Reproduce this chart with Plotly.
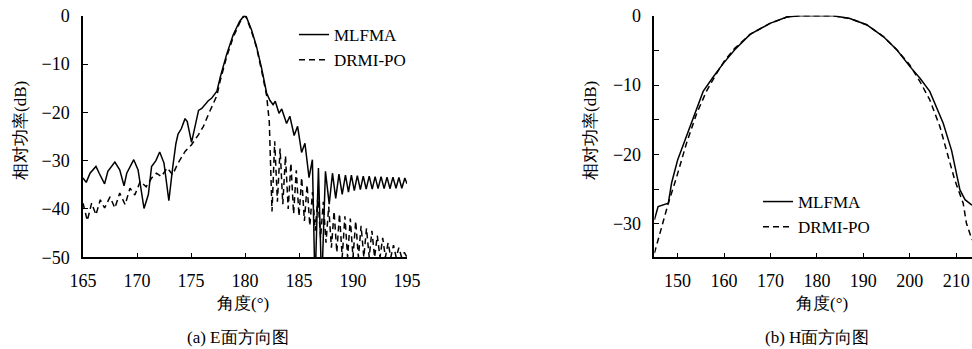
import plotly.graph_objects as go

# ---------------- (a) E-plane pattern ----------------
e_mlfma_angle = [165.0, 165.3, 165.65, 165.9, 166.2, 166.5, 167.0, 167.3, 167.95, 168.4,
                 168.8, 169.05, 169.7, 170.1, 170.65, 171.05, 171.35, 171.75, 172.1, 172.5,
                 172.95, 173.3, 173.6, 173.8, 174.1, 174.45, 174.65, 175.05, 175.35, 175.7,
                 176.0, 176.3, 176.6, 176.9, 177.4, 177.7, 178.0, 178.3, 178.9, 179.5,
                 179.9, 180.1, 180.6, 181.07, 181.55, 182.0, 182.3, 182.6, 182.8, 183.15,
                 183.4, 183.85, 184.15, 184.55, 184.87, 185.24, 185.55, 185.93, 186.24, 186.48,
                 186.8, 187.1, 187.45, 187.8, 188.1, 188.4, 188.7, 189.0, 189.3, 189.58,
                 189.85, 190.12, 190.4, 190.68, 190.95, 191.22, 191.5, 191.78, 192.05, 192.32,
                 192.6, 192.88, 193.15, 193.42, 193.7, 193.98, 194.25, 194.52, 194.8, 195.0]
e_mlfma_db = [-33.6, -34.5, -32.6, -32.0, -31.2, -32.6, -34.8, -32.2, -30.3, -31.9,
              -35.2, -32.6, -29.8, -31.9, -39.9, -37.0, -31.2, -30.0, -28.2, -30.5,
              -38.3, -31.5, -26.5, -24.5, -23.4, -21.3, -21.9, -26.2, -23.0, -19.6,
              -19.2, -18.3, -17.6, -17.1, -15.6, -12.8, -10.5, -8.0, -4.0, -1.2,
              0.0, -0.1, -2.9, -6.4, -11.0, -16.0, -17.5, -18.4, -17.7, -20.2,
              -19.3, -22.3, -20.8, -24.8, -22.9, -28.3, -26.4, -33.5, -29.8, -56.0,
              -31.5, -56.0, -32.2, -39.0, -32.6, -37.8, -32.8, -37.0, -33.0, -36.5,
              -33.0, -36.2, -33.1, -36.0, -33.2, -35.9, -33.2, -35.9, -33.3, -35.8,
              -33.3, -35.8, -33.4, -35.8, -33.4, -35.7, -33.5, -35.7, -33.6, -34.8]

e_drmi_angle = [165.0, 165.4, 165.8, 166.2, 166.6, 167.0, 167.5, 167.95, 168.4, 168.9,
                169.35, 169.8, 170.3, 170.85, 171.35, 171.8, 172.25, 172.8, 173.3, 173.8,
                174.45, 175.05, 175.7, 176.15, 176.6, 176.9, 177.4, 177.7, 178.0, 178.3,
                178.9, 179.5, 179.9, 180.1, 180.6, 181.07, 181.55, 182.0, 182.25, 182.5,
                182.75, 183.0, 183.25, 183.5, 183.75, 184.0, 184.25, 184.5, 184.75, 185.0,
                185.25, 185.5, 185.75, 186.0, 186.25, 186.5, 186.75, 187.0, 187.25, 187.5,
                187.75, 188.0, 188.25, 188.5, 188.75, 189.0, 189.25, 189.5, 189.75, 190.0,
                190.25, 190.5, 190.75, 191.0, 191.25, 191.5, 191.75, 192.0, 192.25, 192.5,
                192.75, 193.0, 193.25, 193.5, 193.75, 194.0, 194.25, 194.5, 194.75, 195.0]
e_drmi_db = [-38.8, -42.4, -38.8, -41.2, -38.1, -39.8, -37.5, -39.8, -36.7, -39.1,
             -35.7, -37.1, -34.3, -35.4, -33.6, -32.6, -33.3, -31.5, -32.9, -30.5,
             -28.1, -26.7, -24.6, -22.9, -20.5, -19.1, -16.5, -13.5, -11.0, -8.5,
             -4.5, -1.5, -0.1, -0.3, -3.2, -6.6, -11.5, -16.5, -22.0, -40.5,
             -26.0, -38.5, -27.5, -39.0, -29.0, -40.0, -30.5, -41.0, -32.0, -41.5,
             -33.5, -42.5, -35.0, -43.5, -36.5, -44.5, -37.5, -46.0, -38.5, -47.0,
             -39.5, -48.0, -40.5, -49.0, -41.0, -50.0, -41.5, -50.0, -42.0, -50.0,
             -42.5, -50.0, -43.5, -50.0, -44.0, -50.0, -44.5, -50.0, -45.5, -50.0,
             -46.0, -50.0, -47.0, -50.0, -47.5, -50.0, -48.0, -50.0, -49.0, -50.0]

# ---------------- (b) H-plane pattern ----------------
h_mlfma_angle = [145.0, 145.8, 148.0, 148.7, 150.0, 152.7, 155.5, 157.7, 159.8, 162.3,
                 165.6, 169.9, 173.5, 176.3, 180.0, 183.5, 187.1, 190.7, 194.3, 197.2,
                 200.0, 202.2, 204.3, 207.2, 209.0, 210.8, 211.9, 213.4]
h_mlfma_db = [-29.4, -27.5, -27.0, -24.1, -20.8, -16.0, -10.9, -8.8, -6.9, -4.9,
              -2.7, -1.1, -0.2, 0.0, 0.0, 0.0, -0.4, -1.3, -3.0, -4.9,
              -7.3, -9.0, -10.9, -15.5, -19.4, -25.1, -26.5, -27.3]

h_drmi_angle = [145.0, 146.6, 148.0, 149.8, 151.9, 154.1, 156.2, 158.4, 160.2, 162.3,
                165.6, 169.9, 173.5, 176.3, 180.0, 183.5, 187.1, 190.7, 194.3, 197.2,
                200.0, 202.2, 204.3, 206.5, 207.9, 209.7, 211.5, 212.2, 213.4]
h_drmi_db = [-34.2, -30.4, -27.0, -23.2, -18.4, -14.1, -10.9, -8.3, -6.4, -4.7,
             -2.7, -1.1, -0.2, 0.0, 0.0, 0.0, -0.4, -1.3, -3.0, -4.9,
             -7.1, -9.5, -12.1, -16.0, -19.4, -23.7, -27.0, -29.9, -32.3]

e_xticks = [165, 170, 175, 180, 185, 190, 195]
e_yticks = [0, -10, -20, -30, -40, -50]
h_xticks = [150, 160, 170, 180, 190, 200, 210]
h_yticks = [0, -10, -20, -30]

series_names = ["MLFMA", "DRMI-PO"]

FONT = "Liberation Serif"
W, H = 972, 349

def sx(p):
    """screen pixel x -> paper fraction"""
    return p / W

def sy(p):
    """screen pixel y -> paper fraction"""
    return 1 - p / H

solid = dict(color="black", width=1.5)
dashed = dict(color="black", width=1.5, dash="6px,4px")

fig = go.Figure()
fig.add_trace(go.Scatter(x=e_mlfma_angle, y=e_mlfma_db, mode="lines", line=solid,
                         name=series_names[0], xaxis="x", yaxis="y", legend="legend"))
fig.add_trace(go.Scatter(x=e_drmi_angle, y=e_drmi_db, mode="lines", line=dashed,
                         name=series_names[1], xaxis="x", yaxis="y", legend="legend"))
fig.add_trace(go.Scatter(x=h_mlfma_angle, y=h_mlfma_db, mode="lines", line=solid,
                         name=series_names[0], xaxis="x2", yaxis="y2", legend="legend2"))
fig.add_trace(go.Scatter(x=h_drmi_angle, y=h_drmi_db, mode="lines", line=dashed,
                         name=series_names[1], xaxis="x2", yaxis="y2", legend="legend2"))

axis_common = dict(showline=True, linecolor="black", linewidth=1.5, ticks="inside",
                   tickcolor="black", tickwidth=1.2, ticklen=5, showgrid=False,
                   zeroline=False, mirror=False, automargin=False,
                   ticklabeloverflow="allow",
                   tickfont=dict(family=FONT, size=18, color="black"))

ydom = [sy(257.3), sy(15.7)]

fig.update_layout(
    template="none",
    width=W, height=H,
    margin=dict(l=0, r=0, t=0, b=0, pad=0, autoexpand=False),
    paper_bgcolor="white", plot_bgcolor="white",
    font=dict(family=FONT, size=17, color="black"),
    xaxis=dict(domain=[sx(83), sx(407)], range=[165, 195], tickvals=e_xticks,
               anchor="y", ticklabelstandoff=6, **axis_common),
    yaxis=dict(domain=ydom, range=[-50, 0], tickvals=e_yticks, anchor="x",
               ticklabelstandoff=8, **axis_common),
    xaxis2=dict(domain=[sx(654.4), 1.0], range=[145, 213.4], tickvals=h_xticks,
                anchor="y2", ticklabelstandoff=6, **axis_common),
    yaxis2=dict(domain=ydom, range=[-34.8, 0], tickvals=h_yticks, anchor="x2",
                ticklabelstandoff=8,
                minor=dict(tickvals=[-5, -15, -25], ticks="inside", ticklen=5,
                           tickcolor="black", tickwidth=1.2),
                **axis_common),
    legend=dict(x=sx(294), y=sy(17), xanchor="left", yanchor="top",
                bgcolor="rgba(0,0,0,0)", font=dict(family=FONT, size=17),
                itemwidth=30, tracegroupgap=0),
    legend2=dict(x=sx(758), y=sy(184), xanchor="left", yanchor="top",
                 bgcolor="rgba(0,0,0,0)", font=dict(family=FONT, size=17),
                 itemwidth=30, tracegroupgap=0),
)

ann = [
    dict(text="角度(°)", x=sx(243), y=sy(303)),
    dict(text="(a) E面方向图", x=sx(238), y=sy(337)),
    dict(text="相对功率(dB)", x=sx(20), y=sy(131), textangle=-90),
    dict(text="角度(°)", x=sx(822), y=sy(303)),
    dict(text="(b) H面方向图", x=sx(817), y=sy(337)),
    dict(text="相对功率(dB)", x=sx(590), y=sy(131), textangle=-90),
]
for a in ann:
    fig.add_annotation(xref="paper", yref="paper", showarrow=False,
                       xanchor="center", yanchor="middle",
                       font=dict(family=FONT, size=17, color="black"), **a)

fig.write_html(
    "out.html",
    config={"displayModeBar": False},
    post_script=("document.body.style.margin='0';"
                 "document.body.style.overflow='hidden';"
                 "document.documentElement.style.overflow='hidden';"),
)
